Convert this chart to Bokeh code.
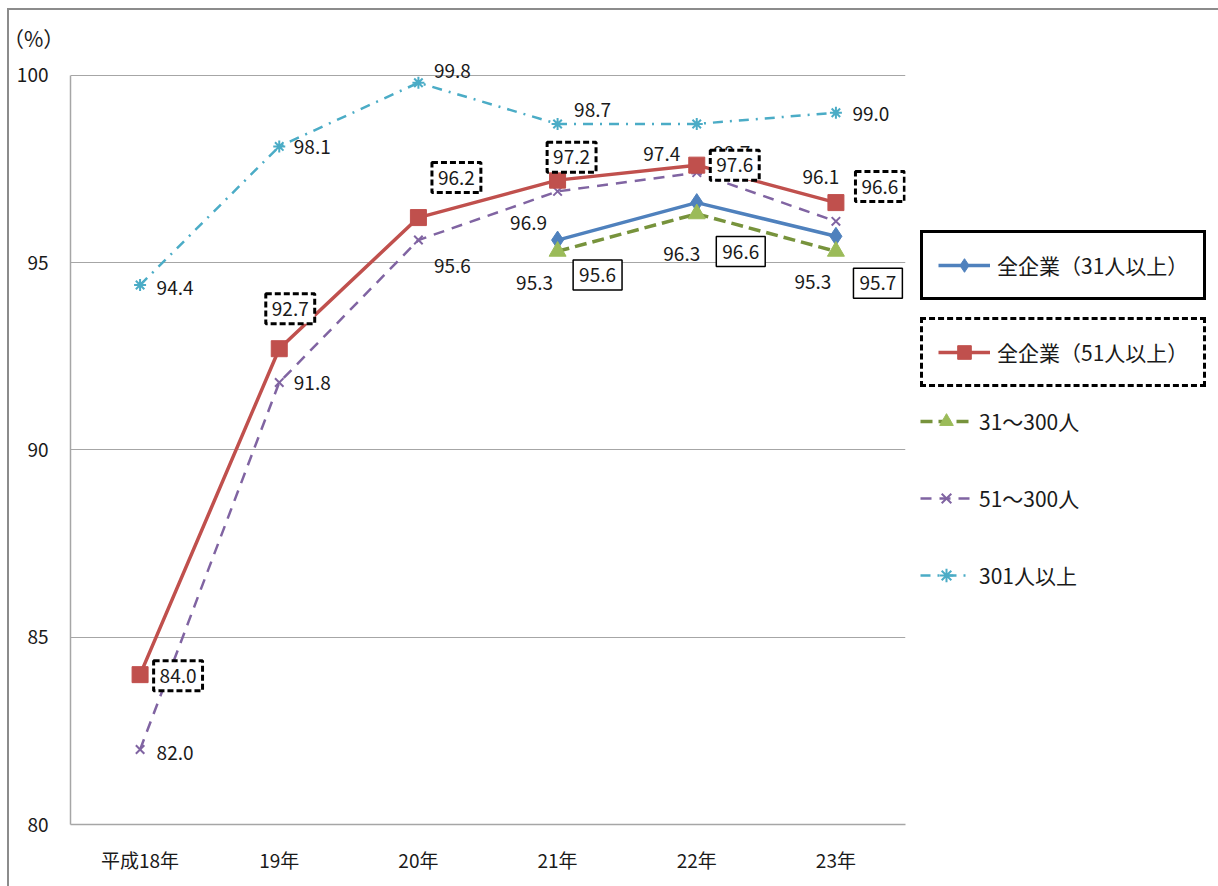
from bokeh.plotting import figure
from bokeh.models import (FactorRange, Range1d, ColumnDataSource, FixedTicker, Legend,
                          LegendItem, Div)
from bokeh.layouts import row, column
from bokeh.core.properties import value
from bokeh.embed import file_html
from bokeh.resources import INLINE

# ---------------- data ----------------
categories = ["平成18年", "19年", "20年", "21年", "22年", "23年"]
cats_later = ["21年", "22年", "23年"]

all31 = [95.6, 96.6, 95.7]                      # 全企業（31人以上）
all51 = [84.0, 92.7, 96.2, 97.2, 97.6, 96.6]    # 全企業（51人以上）
s31_300 = [95.3, 96.3, 95.3]                    # 31～300人
s51_300 = [82.0, 91.8, 95.6, 96.9, 97.4, 96.1]  # 51～300人
s301 = [94.4, 98.1, 99.8, 98.7, 98.7, 99.0]     # 301人以上

series_names = ["全企業（31人以上）", "全企業（51人以上）", "31～300人", "51～300人", "301人以上"]
y_ticks = [80, 85, 90, 95, 100]
unit_label = "（%）"

# ---------------- label offsets (screen px, style only) ----------------
off_all31 = [(40, 35), (44, 49), (42, 47)]
off_all51 = [(38, 1), (11, -40), (38, -40), (14, -23), (38, 0), (44, -16)]
off_31_300 = [(-23, 32), (-15, 40), (-23, 31)]
off_51_300 = [(35, 3), (33, 1), (34, 26), (-29, 32), (-35, -19), (-15, -44)]
off_301 = [(35, 3), (33, 1), (34, -12), (35, -14), (35, 29), (35, 1)]

FONT = "Noto Sans CJK JP"
TXT = "#1a1a1a"
GRID = "#a6a6a6"
C_BLUE, C_RED, C_GREEN, C_GREEN_M, C_PURPLE, C_CYAN = "#4F81BD", "#C0504D", "#77933C", "#9BBB59", "#8064A2", "#4BACC6"

p = figure(width=906, height=836, x_range=FactorRange(*categories), y_range=Range1d(80, 100.5),
           output_backend="svg", toolbar_location=None, title=None,
           min_border_left=61, min_border_right=10, min_border_top=6, min_border_bottom=62)
p.outline_line_color = None
p.xgrid.grid_line_color = None
p.ygrid.grid_line_color = GRID
p.ygrid.grid_line_width = 1
p.yaxis.ticker = FixedTicker(ticks=y_ticks)
p.yaxis.bounds = (80, 100)
for ax in (p.xaxis[0], p.yaxis[0]):
    ax.axis_line_color = GRID
    ax.axis_line_width = 1.5
    ax.major_tick_line_color = None
    ax.minor_tick_line_color = None
    ax.major_label_text_font = FONT
    ax.major_label_text_font_size = "19px"
    ax.major_label_text_color = TXT
p.yaxis.major_label_standoff = 16
p.xaxis.major_label_standoff = 15

def src(xs, ys, offs):
    return ColumnDataSource(dict(x=xs, y=ys, text=[f"{v:.1f}" for v in ys],
                                 dx=[o[0] for o in offs], dy=[o[1] for o in offs]))

# styles per series
sty = {
    "301": dict(line=dict(color=C_CYAN, line_width=2.5, line_dash="10 7 2 7"),
                mark=dict(marker="asterisk", size=12, line_color=C_CYAN, line_width=2)),
    "513": dict(line=dict(color=C_PURPLE, line_width=2.5, line_dash="11 8"),
                mark=dict(marker="x", size=12, line_color=C_PURPLE, line_width=2)),
    "51": dict(line=dict(color=C_RED, line_width=3.5),
               mark=dict(marker="square", size=16, fill_color=C_RED, line_color=C_RED)),
    "31": dict(line=dict(color=C_BLUE, line_width=3.5),
               mark=dict(marker="diamond", size=18, fill_color=C_BLUE, line_color=C_BLUE)),
    "313": dict(line=dict(color=C_GREEN, line_width=3.5, line_dash="12 6"),
                mark=dict(marker="triangle", size=17, fill_color=C_GREEN_M, line_color=C_GREEN_M)),
}

# ---------------- series ----------------
s_301 = src(categories, s301, off_301)
p.line("x", "y", source=s_301, **sty["301"]["line"])
p.scatter("x", "y", source=s_301, **sty["301"]["mark"])

s_51_300 = src(categories, s51_300, off_51_300)
p.line("x", "y", source=s_51_300, **sty["513"]["line"])
p.scatter("x", "y", source=s_51_300, **sty["513"]["mark"])

s_all51 = src(categories, all51, off_all51)
p.line("x", "y", source=s_all51, **sty["51"]["line"])
p.scatter("x", "y", source=s_all51, **sty["51"]["mark"])

s_all31 = src(cats_later, all31, off_all31)
p.line("x", "y", source=s_all31, **sty["31"]["line"])
p.scatter("x", "y", source=s_all31, **sty["31"]["mark"])

s_31_300 = src(cats_later, s31_300, off_31_300)
p.line("x", "y", source=s_31_300, **sty["313"]["line"])
p.scatter("x", "y", source=s_31_300, **sty["313"]["mark"])

# ---------------- data labels ----------------
common = dict(x="x", y="y", text="text", x_offset="dx", y_offset="dy", text_align="center",
              text_baseline="middle", text_font=value(FONT), text_font_size="19px", text_color=TXT)
p.text(source=s_301, **common)
p.text(source=s_51_300, **common)
p.text(source=s_31_300, **common)
p.text(source=s_all51, border_line_color="black", border_line_width=3, border_line_dash="6 3",
       background_fill_color="white", padding=(6, 8), **common)
p.text(source=s_all31, border_line_color="black", border_line_width=1.5,
       background_fill_color="white", padding=(6, 8), **common)

# ---------------- legend panel ----------------
lp = figure(width=303, height=836, x_range=Range1d(0, 1), y_range=Range1d(0, 1),
            x_axis_type=None, y_axis_type=None, title=None,
            output_backend="svg", toolbar_location=None, min_border=0)
lp.grid.visible = False
lp.outline_line_color = None

leg_specs = [
    (series_names[0], "31", 524, dict(border_line_color="black", border_line_width=3)),
    (series_names[1], "51", 437, dict(border_line_color="black", border_line_width=3, border_line_dash="6 3")),
    (series_names[2], "313", 386, dict(border_line_color=None)),
    (series_names[3], "513", 309, dict(border_line_color=None)),
    (series_names[4], "301", 232, dict(border_line_color=None)),
]
for name, key, ypos, st in leg_specs:
    # sample glyphs for the legend key (placed outside the visible range)
    lr = lp.line(x=[-5, -4], y=[-5, -4], **sty[key]["line"])
    mr = lp.scatter(x=[-5], y=[-5], **sty[key]["mark"])
    lg = Legend(items=[LegendItem(label=name, renderers=[lr, mr])], location=(5, ypos),
                glyph_width=52, glyph_height=34, label_standoff=7, padding=15, margin=0,
                label_width=190, label_text_font=FONT, label_text_font_size="21px",
                label_text_color=TXT, background_fill_alpha=0, border_line_alpha=1, **st)
    lp.add_layout(lg)

top = Div(text=unit_label, width=1209, height=40, margin=0,
          styles={"font-family": FONT, "font-size": "21px", "line-height": "20px",
                  "color": TXT, "padding-top": "18px", "text-indent": "-6px"})

layout = column(top, row(p, lp))
layout.styles = {"margin-left": "7px", "margin-top": "8px",
                 "border-top": "2px solid #8c8c8c", "border-left": "2px solid #8c8c8c"}

open("out.html", "w").write(file_html(layout, INLINE))
